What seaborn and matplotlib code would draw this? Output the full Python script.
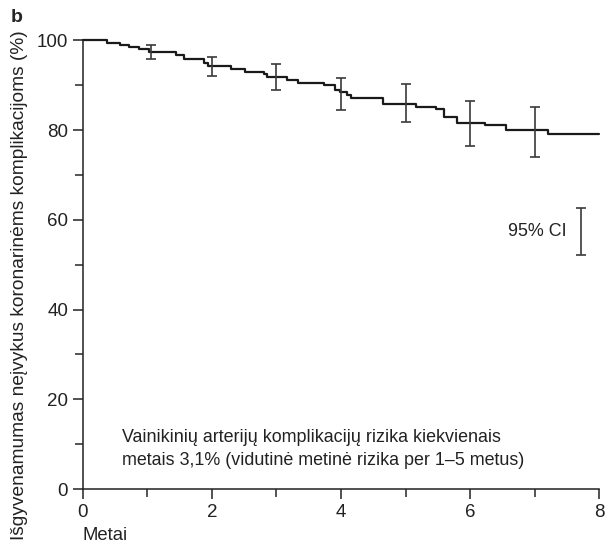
import numpy as np
import pandas as pd
import matplotlib
matplotlib.use("Agg")
import matplotlib.pyplot as plt
import seaborn as sns

# Kaplan-Meier step curve (drop times in years, survival % after the drop)
km_time = [0.0, 0.38, 0.57, 0.71, 0.87, 1.03, 1.44, 1.57, 1.88, 1.94, 2.30, 2.51,
           2.80, 2.86, 3.16, 3.34, 3.74, 3.90, 3.99, 4.09, 4.15, 4.65, 5.16, 5.47,
           5.60, 5.80, 6.23, 6.55, 7.20, 8.0]
km_surv = [100.0, 99.5, 99.0, 98.6, 98.0, 97.4, 96.7, 95.8, 95.0, 94.2, 93.5, 92.9,
           92.4, 91.8, 91.1, 90.5, 90.0, 89.0, 88.5, 87.7, 87.2, 85.7, 85.1, 84.6,
           82.9, 81.6, 81.1, 79.95, 79.1, 79.1]

# 95% CI bars
ci_time = [1.05, 2.0, 3.0, 4.0, 5.0, 6.0, 7.0]
ci_upper = [98.9, 96.3, 94.7, 91.5, 90.2, 86.5, 85.1]
ci_lower = [95.8, 92.1, 88.9, 84.4, 81.7, 76.4, 74.0]

# legend bar
legend_ci = [52.2, 62.6]

df = pd.DataFrame({"Metai": km_time, "surv": km_surv})

sns.set_style("ticks")
plt.rcParams["font.family"] = ["Liberation Sans", "DejaVu Sans"]

fig = plt.figure(figsize=(6.09, 5.44), dpi=100)
ax = fig.add_axes([0.136, 0.101, 0.848, 0.825])

sns.lineplot(data=df, x="Metai", y="surv", estimator=None, drawstyle="steps-post",
             color="#1a1a1a", linewidth=1.6, ax=ax, clip_on=False)

ci_mid = [(u + l) / 2 for u, l in zip(ci_upper, ci_lower)]
ci_err = [(u - l) / 2 for u, l in zip(ci_upper, ci_lower)]
ax.errorbar(ci_time, ci_mid, yerr=ci_err, fmt="none", ecolor="#3a3a3a",
            elinewidth=1.2, capsize=3.6, capthick=1.2)

lg_mid = (legend_ci[0] + legend_ci[1]) / 2
ax.errorbar([7.72], [lg_mid], yerr=[(legend_ci[1] - legend_ci[0]) / 2], fmt="none",
            ecolor="#3a3a3a", elinewidth=1.2, capsize=3.6, capthick=1.2)
ax.text(7.5, lg_mid, "95% CI", ha="right", va="center", fontsize=12.9, color="#222222")

ax.text(0.6, 9.0, "Vainikinių arterijų komplikacijų rizika kiekvienais\n"
        "metais 3,1% (vidutinė metinė rizika per 1–5 metus)",
        ha="left", va="center", fontsize=12.9, color="#222222", linespacing=1.45)

ax.set_xlim(0, 8)
ax.set_ylim(0, 100)
ax.set_xticks([0, 2, 4, 6, 8])
ax.set_xticks([1, 3, 5, 7], minor=True)
ax.set_yticks([0, 20, 40, 60, 80, 100])
ax.set_yticks([10, 30, 50, 70, 90], minor=True)
ax.tick_params(axis="both", which="major", length=7, width=1.1, labelsize=13.5,
               colors="#222222")
ax.tick_params(axis="both", which="minor", length=6, width=1.1)
sns.despine(ax=ax)
for s in ["left", "bottom"]:
    ax.spines[s].set_linewidth(1.1)
    ax.spines[s].set_color("#222222")

ax.set_xlabel("Metai", fontsize=13.3, color="#222222", loc="left")
ax.xaxis.set_label_coords(0.0, -0.085)
ax.set_ylabel("Išgyvenamumas neįvykus koronarinėms komplikacijoms (%)",
              fontsize=13.8, color="#222222")
ax.yaxis.set_label_coords(-0.106, 0.455)

fig.text(0.018, 0.968, "b", fontsize=14, fontweight="bold", ha="left", va="center")

fig.savefig("out.png", dpi=100)
